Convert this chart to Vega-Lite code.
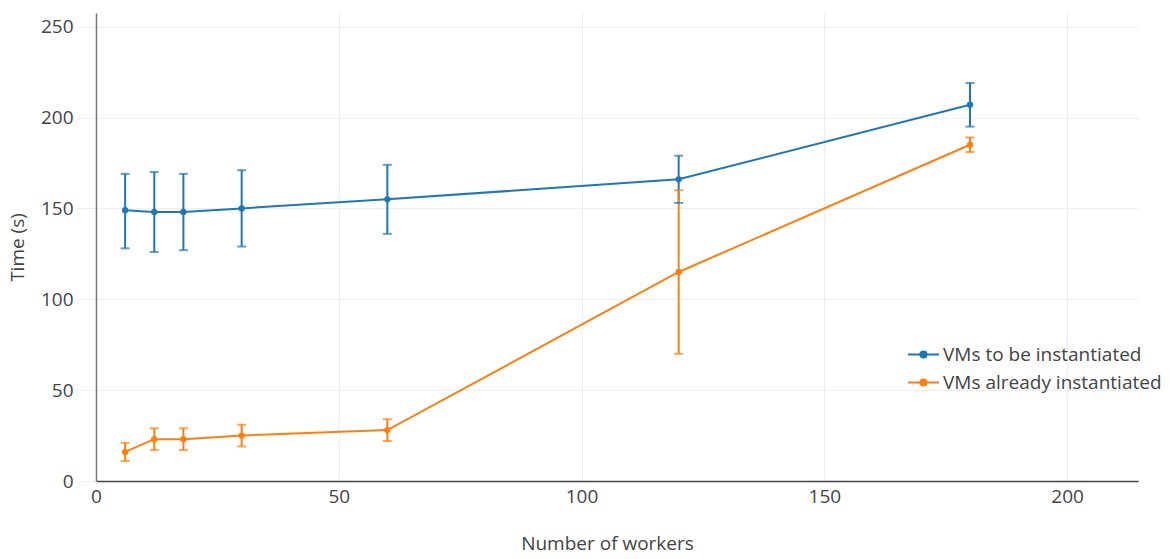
{
  "$schema": "https://vega.github.io/schema/vega-lite/v6.json",
  "autosize": "none",
  "width": 1042,
  "height": 468,
  "padding": {"left": 96, "top": 13, "right": 31, "bottom": 78},
  "background": "white",
  "config": {
    "font": "Open Sans",
    "view": {"stroke": null},
    "axis": {"labelFont": "Open Sans", "titleFont": "Open Sans", "labelFontSize": 19, "titleFontSize": 19, "labelColor": "#444", "titleColor": "#444", "titleFontWeight": "normal", "gridColor": "#eeeeee", "gridWidth": 1, "labelFlush": false},
    "legend": {"labelFont": "Open Sans", "labelFontSize": 19, "labelColor": "#444", "labelLimit": 400}
  },
  "data": {"values": [
    {"series": "VMs to be instantiated", "workers": 6, "time": 149, "low": 128, "high": 169},
    {"series": "VMs to be instantiated", "workers": 12, "time": 148, "low": 126, "high": 170},
    {"series": "VMs to be instantiated", "workers": 18, "time": 148, "low": 127, "high": 169},
    {"series": "VMs to be instantiated", "workers": 30, "time": 150, "low": 129, "high": 171},
    {"series": "VMs to be instantiated", "workers": 60, "time": 155, "low": 136, "high": 174},
    {"series": "VMs to be instantiated", "workers": 120, "time": 166, "low": 153, "high": 179},
    {"series": "VMs to be instantiated", "workers": 180, "time": 207, "low": 195, "high": 219},
    {"series": "VMs already instantiated", "workers": 6, "time": 16, "low": 11, "high": 21},
    {"series": "VMs already instantiated", "workers": 12, "time": 23, "low": 17, "high": 29},
    {"series": "VMs already instantiated", "workers": 18, "time": 23, "low": 17, "high": 29},
    {"series": "VMs already instantiated", "workers": 30, "time": 25, "low": 19, "high": 31},
    {"series": "VMs already instantiated", "workers": 60, "time": 28, "low": 22, "high": 34},
    {"series": "VMs already instantiated", "workers": 120, "time": 115, "low": 70, "high": 160},
    {"series": "VMs already instantiated", "workers": 180, "time": 185, "low": 181, "high": 189}
  ]},
  "encoding": {
    "x": {"field": "workers", "type": "quantitative", "scale": {"domain": [0, 214.6], "nice": false, "zero": false},
      "axis": {"title": "Number of workers", "values": [0, 50, 100, 150, 200], "ticks": false, "labelPadding": 6, "domain": true, "domainColor": "#444", "domainWidth": 1.5, "titleX": 511, "titleY": 53, "titleBaseline": "top", "titleAnchor": "middle", "titleAlign": "center"}},
    "color": {"field": "series", "type": "nominal", "scale": {"domain": ["VMs to be instantiated", "VMs already instantiated"], "range": ["#1f77b4", "#ff7f0e"]},
      "legend": {"title": null, "orient": "none", "legendX": 818, "legendY": 332, "symbolType": "M-2,0L2,0M-0.4,0a0.4,0.4 0 1,0 0.8,0a0.4,0.4 0 1,0 -0.8,0", "symbolSize": 240, "symbolStrokeWidth": 2, "symbolOpacity": 1, "labelOffset": 10, "rowPadding": 8}}
  },
  "layer": [
    {
      "mark": {"type": "rule", "strokeWidth": 2},
      "encoding": {
        "y": {"field": "low", "type": "quantitative", "scale": {"domain": [0, 257.5], "nice": false},
          "axis": {"title": "Time (s)", "values": [0, 50, 100, 150, 200, 250], "tickSize": 20, "tickColor": "#eeeeee", "labelPadding": 3, "domain": true, "domainColor": "#777", "domainWidth": 1.5, "titlePadding": 13}},
        "y2": {"field": "high"}
      }
    },
    {
      "mark": {"type": "tick", "orient": "horizontal", "size": 9, "thickness": 2},
      "encoding": {"y": {"field": "low", "type": "quantitative"}}
    },
    {
      "mark": {"type": "tick", "orient": "horizontal", "size": 9, "thickness": 2},
      "encoding": {"y": {"field": "high", "type": "quantitative"}}
    },
    {
      "mark": {"type": "line", "strokeWidth": 2},
      "encoding": {
        "y": {"field": "time", "type": "quantitative"}
      }
    },
    {
      "mark": {"type": "point", "filled": true, "size": 40, "opacity": 1},
      "encoding": {"y": {"field": "time", "type": "quantitative"}}
    }
  ]
}
